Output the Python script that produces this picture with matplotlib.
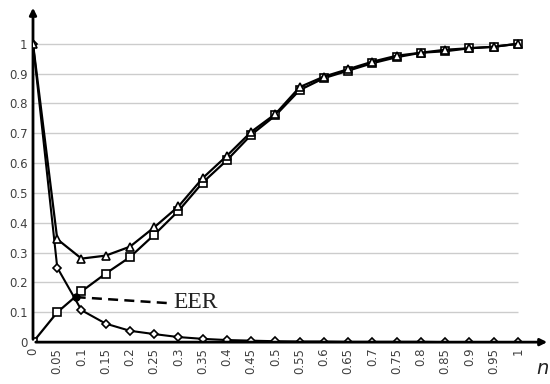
import numpy as np
import matplotlib
matplotlib.use("Agg")
import matplotlib.pyplot as plt

# data
n = [0, 0.05, 0.1, 0.15, 0.2, 0.25, 0.3, 0.35, 0.4, 0.45, 0.5,
     0.55, 0.6, 0.65, 0.7, 0.75, 0.8, 0.85, 0.9, 0.95, 1]
tick_labels = ["0", "0.05", "0.1", "0.15", "0.2", "0.25", "0.3", "0.35", "0.4", "0.45", "0.5",
               "0.55", "0.6", "0.65", "0.7", "0.75", "0.8", "0.85", "0.9", "0.95", "1"]
triangle = [1.0, 0.345, 0.28, 0.29, 0.32, 0.385, 0.455, 0.55, 0.625, 0.705, 0.765,
            0.855, 0.89, 0.915, 0.94, 0.96, 0.97, 0.98, 0.985, 0.99, 1.0]
square = [0.0, 0.1, 0.17, 0.23, 0.285, 0.36, 0.44, 0.535, 0.61, 0.695, 0.76,
          0.845, 0.885, 0.91, 0.935, 0.955, 0.97, 0.975, 0.985, 0.99, 1.0]
diamond = [1.0, 0.25, 0.107, 0.062, 0.038, 0.027, 0.017, 0.011, 0.007, 0.005, 0.003,
           0.002, 0.002, 0.001, 0.001, 0.001, 0.001, 0.0, 0.0, 0.0, 0.0]
y_ticks = [0, 0.1, 0.2, 0.3, 0.4, 0.5, 0.6, 0.7, 0.8, 0.9, 1]
eer_x, eer_y = 0.088, 0.151

fig = plt.figure(figsize=(5.5, 3.84), dpi=100)
ax = fig.add_axes([0.06, 0.109, 0.94, 0.878])
ax.set_xlim(0, 1.066)
ax.set_ylim(0, 1.13)

# gridlines only up to n = 1
ax.hlines(y_ticks[1:], 0, 1, colors="#cccccc", linewidth=1.0, zorder=0)

ax.plot(n, square, color="black", lw=1.6, marker="s", ms=6, mfc="white", mec="black", mew=1.2, zorder=3)
ax.plot(n, triangle, color="black", lw=1.6, marker="^", ms=6, mfc="white", mec="black", mew=1.2, zorder=4)
ax.plot(n, diamond, color="black", lw=1.5, marker="D", ms=4.5, mfc="white", mec="black", mew=1.2, zorder=3)

# EER point and label
ax.plot([eer_x], [eer_y], marker="o", ms=5, color="black", zorder=5)
ax.plot([eer_x, 0.277], [eer_y, 0.131], color="black", lw=1.8, ls=(0, (4, 2.5)), zorder=5)
ax.text(0.29, 0.133, "EER", family="Liberation Serif", fontsize=17, va="center", ha="left", color="#222222")

# axes as arrows
for s in ["top", "right", "left", "bottom"]:
    ax.spines[s].set_visible(False)
ax.annotate("", xy=(0, 1.13), xytext=(0, 0),
            arrowprops=dict(arrowstyle="-|>", color="black", lw=2, mutation_scale=10), annotation_clip=False)
ax.annotate("", xy=(1.066, 0), xytext=(0, 0),
            arrowprops=dict(arrowstyle="-|>", color="black", lw=2, mutation_scale=10), annotation_clip=False)

ax.set_xticks(n)
ax.set_xticklabels(tick_labels, rotation=90)
ax.set_yticks(y_ticks)
ax.set_yticklabels(["0", "0.1", "0.2", "0.3", "0.4", "0.5", "0.6", "0.7", "0.8", "0.9", "1"])
ax.tick_params(length=0, labelsize=8.5, labelcolor="#404040", pad=4)

fig.text(0.975, 0.025, "n", fontsize=14, style="italic", color="#222222", ha="left")

fig.savefig("out.png", dpi=100)
